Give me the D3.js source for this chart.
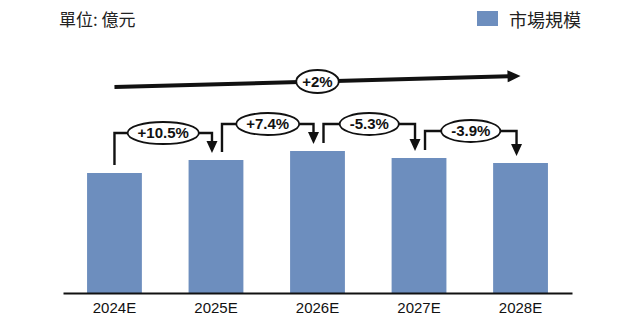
<!DOCTYPE html>
<html>
<head>
<meta charset="utf-8">
<script src="https://cdn.jsdelivr.net/npm/d3@7"></script>
<style>
  body { margin: 0; background: #fff; }
  .x-text { font-family: "Liberation Sans", Arial, sans-serif; font-size: 15px; fill: #111; }
  .pct { font-family: "Liberation Sans", Arial, sans-serif; font-size: 15px; font-weight: bold; fill: #111; }
  .cjk { font-family: "Noto Sans CJK TC", "Noto Sans CJK SC", sans-serif; fill: #222; }
</style>
</head>
<body>
<div id="chart-container"></div>
<script>
// data
const categories = ['2024E', '2025E', '2026E', '2027E', '2028E'];
const marketSize = [120, 133, 142, 135, 130]; // 億元
const growthLabels = ['+10.5%', '+7.4%', '-5.3%', '-3.9%'];
const totalGrowth = '+2%';
const unitLabel = '單位: 億元';
const seriesName = '市場規模';

const dimensions = { width: 631, height: 333 };
const axisY = 293;
const barColor = '#6d8ebe';

const svg = d3.select('#chart-container')
  .append('svg')
  .attr('width', dimensions.width)
  .attr('height', dimensions.height);

const x = d3.scaleBand()
  .domain(categories)
  .range([63, 572])
  .paddingInner(0.46)
  .paddingOuter(0.237);

const y = d3.scaleLinear()
  .domain([0, 142])
  .range([axisY, 151]);

const cx = c => x(c) + x.bandwidth() / 2;

function drawBars() {
  svg.append('g')
    .selectAll('rect')
    .data(categories.map((c, i) => ({ c, v: marketSize[i] })))
    .join('rect')
    .attr('x', d => x(d.c))
    .attr('width', x.bandwidth())
    .attr('y', d => y(d.v))
    .attr('height', d => axisY - y(d.v))
    .attr('fill', barColor);
}

function drawX() {
  const xAxis = svg.append('g')
    .attr('transform', `translate(0, ${axisY})`)
    .call(d3.axisBottom(x).tickSize(0).tickPadding(9).tickSizeOuter(0));
  xAxis.select('.domain').attr('stroke', '#111').attr('stroke-width', 2);
  xAxis.selectAll('text').attr('class', 'x-text').attr('font-size', null).attr('font-family', null);
}

// ellipse label, text measured first
function bubble(g, text, mx, my, pad, ry) {
  const t = g.append('text')
    .attr('class', 'pct')
    .attr('x', mx)
    .attr('y', my)
    .attr('dy', '0.36em')
    .attr('text-anchor', 'middle')
    .text(text);
  const w = t.node().getComputedTextLength();
  g.insert('ellipse', 'text')
    .attr('cx', mx)
    .attr('cy', my)
    .attr('rx', w / 2 + pad)
    .attr('ry', ry)
    .attr('fill', '#fff')
    .attr('stroke', '#111')
    .attr('stroke-width', 1.8);
}

function drawConnectors() {
  growthLabels.forEach((label, i) => {
    const g = svg.append('g');
    const x0 = cx(categories[i]) + (i === 0 ? 0 : 6);
    const x1 = cx(categories[i + 1]) - 4;
    const top0 = y(marketSize[i]);
    const top1 = y(marketSize[i + 1]);
    const level = Math.min(top0, top1) - 27;
    const tipY = top1 - 7;
    g.append('path')
      .attr('d', `M${x0},${top0 - 8}V${level}H${x1}V${tipY - 10}`)
      .attr('fill', 'none')
      .attr('stroke', '#111')
      .attr('stroke-width', 2.4);
    g.append('path')
      .attr('d', `M${x1 - 5.5},${tipY - 12}L${x1 + 5.5},${tipY - 12}L${x1},${tipY}Z`)
      .attr('fill', '#111');
    bubble(g, label, (x0 + x1) / 2, level, 10, 11);
  });
}

function drawTrend() {
  const g = svg.append('g');
  const x0 = cx(categories[0]);
  const x1 = cx(categories[categories.length - 1]);
  const y0 = 87, y1 = 76;
  const ang = Math.atan2(y1 - y0, x1 - x0);
  const len = 13, hw = 6;
  const bx = x1 - len * Math.cos(ang), by = y1 - len * Math.sin(ang);
  g.append('line')
    .attr('x1', x0).attr('y1', y0)
    .attr('x2', bx + 1).attr('y2', by)
    .attr('stroke', '#111')
    .attr('stroke-width', 4);
  g.append('path')
    .attr('d', `M${x1},${y1}L${bx - hw * Math.sin(ang)},${by + hw * Math.cos(ang)}L${bx + hw * Math.sin(ang)},${by - hw * Math.cos(ang)}Z`)
    .attr('fill', '#111');
  bubble(g, totalGrowth, (x0 + x1) / 2, (y0 + y1) / 2, 6, 11.5);
}

function drawHeader() {
  svg.append('text')
    .attr('class', 'cjk')
    .attr('x', 59)
    .attr('y', 18.5)
    .attr('dominant-baseline', 'central')
    .attr('font-size', 17)
    .text(unitLabel);
  svg.append('rect')
    .attr('x', 477).attr('y', 11)
    .attr('width', 21).attr('height', 15)
    .attr('fill', barColor);
  svg.append('text')
    .attr('class', 'cjk')
    .attr('x', 509)
    .attr('y', 18.5)
    .attr('dominant-baseline', 'central')
    .attr('font-size', 18)
    .attr('fill', '#333')
    .text(seriesName);
}

drawBars();
drawX();
drawConnectors();
drawTrend();
drawHeader();
</script>
</body>
</html>
